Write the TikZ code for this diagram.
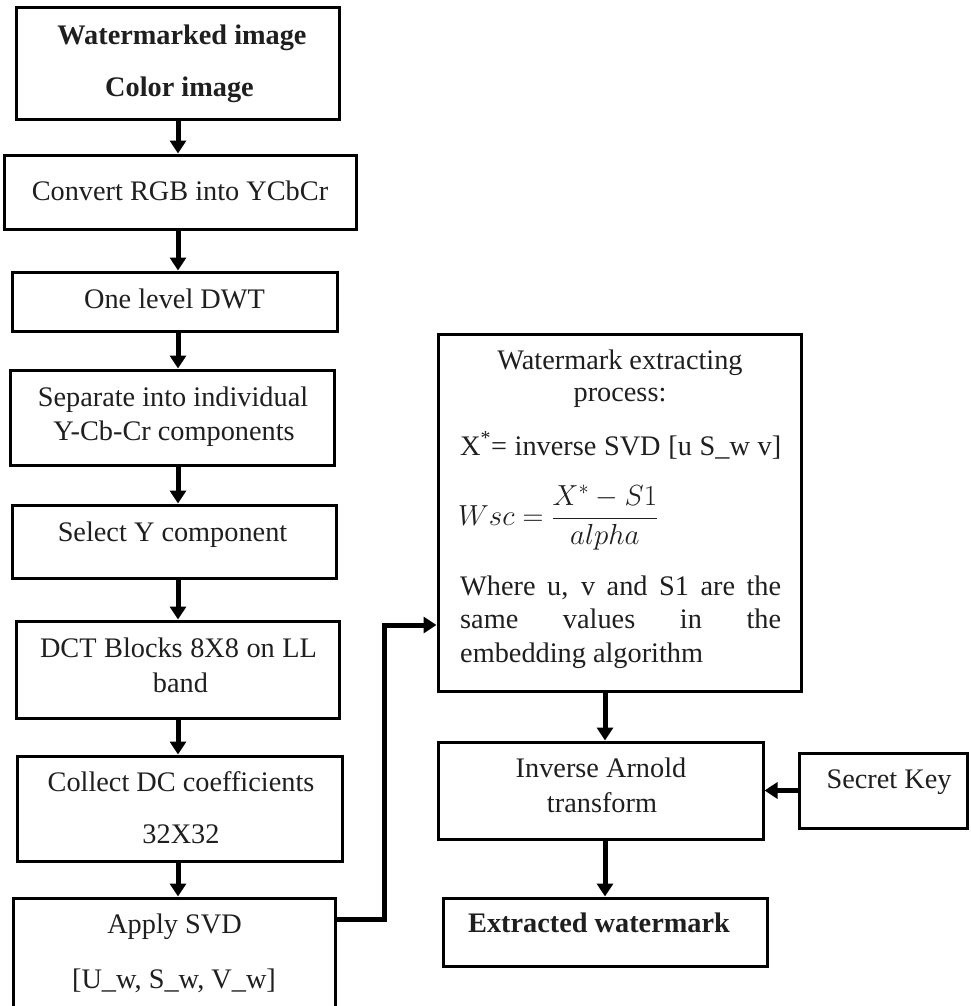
\RequirePackage{fix-cm}
\documentclass[tikz,border=0pt]{standalone}
\usepackage{fontspec}
\setmainfont{Liberation Serif}
\usetikzlibrary{arrows.meta}
\begin{document}
\begin{tikzpicture}[x=1pt, y=-1pt,
  box/.style={draw, line width=3pt, inner sep=0pt, fill=white},
  txt/.style={anchor=base, inner sep=0pt, text=black!88,
    font=\fontsize{28.3}{34}\selectfont},
  btxt/.style={txt, font=\fontsize{28.3}{34}\selectfont\bfseries},
  arr/.style={line width=5pt, -{Triangle[width=16pt,length=13pt]}}]

\useasboundingbox (0,0) rectangle (971,1006);
\clip (0,0) rectangle (971,1006);
\fill[white] (0,0) rectangle (971,1006);

% left column: processing chain
\node[box, minimum width=323pt, minimum height=112pt] (b1) at (177.5,64) {};
\node[box, minimum width=352pt, minimum height=74pt]  (b2) at (180,192) {};
\node[box, minimum width=325pt, minimum height=59pt]  (b3) at (174.5,301.5) {};
\node[box, minimum width=324pt, minimum height=95pt]  (b4) at (172,417.5) {};
\node[box, minimum width=324pt, minimum height=73pt]  (b5) at (174,541.5) {};
\node[box, minimum width=323pt, minimum height=97pt]  (b6) at (177.5,669.5) {};
\node[box, minimum width=325pt, minimum height=105pt] (b7) at (179.5,808.5) {};
\node[box, minimum width=322pt, minimum height=117pt] (b8) at (174,956.5) {};

% right column: extraction
\node[box, minimum width=363pt, minimum height=357pt] (r1) at (619.5,512.5) {};
\node[box, minimum width=325pt, minimum height=97pt]  (r2) at (600.5,790.5) {};
\node[box, minimum width=168pt, minimum height=75pt]  (r3) at (883,790.5) {};
\node[box, minimum width=324pt, minimum height=68pt]  (r4) at (605,932) {};

% labels of the left column
\node[btxt] (t1a) at (182,45) {Watermarked image};
\node[btxt] (t1b) at (179.5,97) {Color image};
\node[txt] (t2) at (180,200) {Convert RGB into YCbCr};
\node[txt] (t3) at (174.5,308) {One level DWT};
\node[txt] (t4a) at (173,406) {Separate into individual};
\node[txt] (t4b) at (174,440) {Y-Cb-Cr components};
\node[txt] (t5) at (172.5,541) {Select Y component};
\node[txt] (t6a) at (178.5,657) {\makebox[277pt][s]{DCT Blocks 8X8 on LL}};
\node[txt] (t6b) at (180.5,692) {band};
\node[txt] (t7a) at (181,791) {Collect DC coefficients};
\node[txt] (t7b) at (181,843) {32X32};
\node[txt] (t8a) at (174.5,933) {Apply SVD};
\node[txt] (t8b) at (174,988) {[U\_w, S\_w, V\_w]};

% labels of the right column
\node[txt] (s1a) at (620,369) {Watermark extracting};
\node[txt] (s1b) at (620,401) {process:};
\node[txt, anchor=base west] (s1c) at (460,455)
  {\makebox[321pt][s]{X\textsuperscript{*}= inverse SVD [u S\_w v]}};
\node[txt, anchor=west, font=\fontsize{29}{35}\selectfont] (s1d) at (458,518)
  {$\displaystyle Wsc = \frac{X^{*} - S1}{alpha}$};
\node[txt, anchor=base west] (s1e) at (460,595)
  {\makebox[321pt][s]{Where u, v and S1 are the}};
\node[txt, anchor=base west] (s1f) at (460,628)
  {\makebox[321pt][s]{same values in the}};
\node[txt, anchor=base west] (s1g) at (460,662) {embedding algorithm};

\node[txt] (s2a) at (601,777) {Inverse Arnold};
\node[txt] (s2b) at (602,812) {transform};
\node[txt] (s3) at (889,788) {Secret Key};
\node[btxt] (s4) at (599,932) {Extracted watermark};

% connectors
\coordinate (lx) at (178,0);
\coordinate (rx) at (605,0);
\draw[arr] (b1.south -| lx) -- (b2.north -| lx);
\draw[arr] (b2.south -| lx) -- (b3.north -| lx);
\draw[arr] (b3.south -| lx) -- (b4.north -| lx);
\draw[arr] (b4.south -| lx) -- (b5.north -| lx);
\draw[arr] (b5.south -| lx) -- (b6.north -| lx);
\draw[arr] (b6.south -| lx) -- (b7.north -| lx);
\draw[arr] (b7.south -| lx) -- (b8.north -| lx);

\coordinate (k1) at (384,919);
\coordinate (k2) at (384,625);
\draw[arr] (k1 -| b8.east) -- (k1) -- (k2) -- (k2 -| r1.west);

\draw[arr] (r1.south -| rx) -- (r2.north -| rx);
\draw[arr] (r2.south -| rx) -- (r4.north -| rx);
\draw[arr] (r3.west) -- (r2.east);

\end{tikzpicture}
\end{document}
